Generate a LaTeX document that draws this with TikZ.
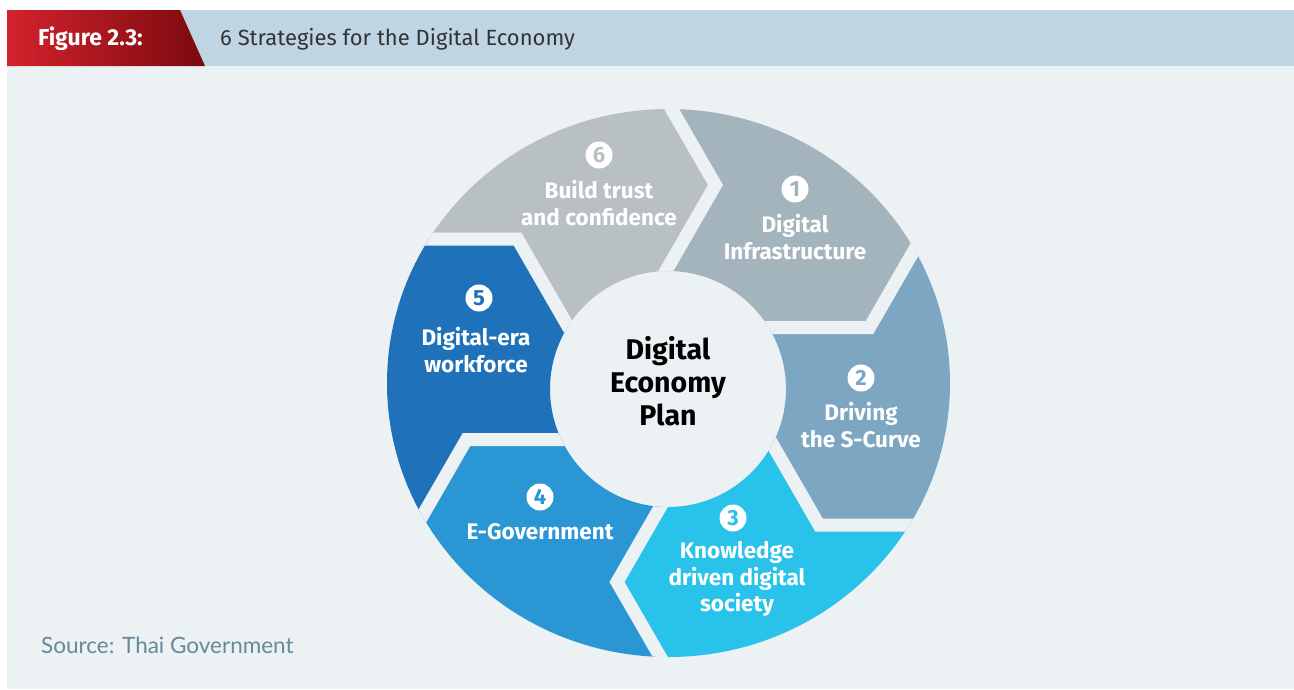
\documentclass[tikz,border=0pt]{standalone}
\usepackage{fontspec}
\setmainfont{Fira Sans}
\newfontfamily\srcfont{Lato}
\usetikzlibrary{calc}
\definecolor{panelbg}{HTML}{ECF1F4}
\definecolor{headbg}{HTML}{BFD5E3}
\definecolor{redL}{HTML}{D4222D}
\definecolor{redR}{HTML}{7A0A0E}
\definecolor{segA}{HTML}{A3B4BD}
\definecolor{segB}{HTML}{7DA6C3}
\definecolor{segC}{HTML}{28C2EA}
\definecolor{segD}{HTML}{2B96D4}
\definecolor{segE}{HTML}{1F71B9}
\definecolor{segF}{HTML}{B9C0C3}
\definecolor{titlegray}{HTML}{333333}
\definecolor{srcgray}{HTML}{67899A}
\tikzset{
  gapline/.style={draw=panelbg, line width=13pt, line join=miter},
  lbl/.style={text=white, font=\bfseries\fontsize{22.5}{26.5}\selectfont, align=center, inner sep=0pt},
  numc/.style={circle, fill=white, minimum size=27pt, inner sep=0pt, font=\bfseries\fontsize{22}{22}\selectfont},
  ctrtext/.style={text=black, font=\bfseries\fontsize{28.5}{33}\selectfont, align=center, inner sep=0pt}
}
\begin{document}
\begin{tikzpicture}[x=1pt,y=-1pt]
\useasboundingbox (0,0) rectangle (1294,689);
\fill[white] (0,0) rectangle (1294,689);
\fill[panelbg] (7,66) rectangle (1294,689);
\fill[headbg] (7,10) rectangle (1294,66);
\shade[left color=redL,right color=redR] (7,10) -- (180,10) -- (205,66) -- (7,66) -- cycle;
\node[anchor=west, inner sep=0pt, text=white, font=\bfseries\fontsize{23}{23}\selectfont] (fig) at (38,39) {Figure 2.3:};
\node[anchor=west, inner sep=0pt, text=titlegray, font=\fontsize{22}{22}\selectfont] (ttl) at (220,39) {6 Strategies for the Digital Economy};
\node[anchor=west, inner sep=0pt, text=srcgray, font=\srcfont\fontsize{22.5}{22.5}\selectfont] (src) at (41,645) {Source: Thai Government};

% ring geometry
\coordinate (O) at (668.5,383);
\coordinate (H) at (668,389);
\coordinate (D1) at (715.5,185);
\coordinate (D2) at (869.5,327.5);
\coordinate (D3) at (819,525);
\coordinate (D4) at (617,582);
\coordinate (D5) at (466.5,439.5);
\coordinate (D6) at (517.5,239);

\begin{scope}[even odd rule]
\clip (O) ellipse [x radius=281.5pt, y radius=274pt] (H) circle [radius=118pt];
\fill[segA] (O) -- ($(D1)+(120:140)$) -- (D1) -- ($(D1)+(240:140)$) -- ($(O)+(-46:450)$) -- ($(D2)+(300:140)$) -- (D2) -- ($(D2)+(180:140)$) -- cycle;
\fill[segB] (O) -- ($(D2)+(180:140)$) -- (D2) -- ($(D2)+(300:140)$) -- ($(O)+(14:450)$) -- ($(D3)+(360:140)$) -- (D3) -- ($(D3)+(240:140)$) -- cycle;
\fill[segC] (O) -- ($(D3)+(240:140)$) -- (D3) -- ($(D3)+(360:140)$) -- ($(O)+(74:450)$) -- ($(D4)+(60:140)$) -- (D4) -- ($(D4)+(300:140)$) -- cycle;
\fill[segD] (O) -- ($(D4)+(300:140)$) -- (D4) -- ($(D4)+(60:140)$) -- ($(O)+(134:450)$) -- ($(D5)+(120:140)$) -- (D5) -- ($(D5)+(0:140)$) -- cycle;
\fill[segE] (O) -- ($(D5)+(0:140)$) -- (D5) -- ($(D5)+(120:140)$) -- ($(O)+(194:450)$) -- ($(D6)+(180:140)$) -- (D6) -- ($(D6)+(60:140)$) -- cycle;
\fill[segF] (O) -- ($(D6)+(60:140)$) -- (D6) -- ($(D6)+(180:140)$) -- ($(O)+(254:450)$) -- ($(D1)+(240:140)$) -- (D1) -- ($(D1)+(120:140)$) -- cycle;
\draw[gapline] ($(D1)+(120:140)$) -- (D1) -- ($(D1)+(240:140)$);
\draw[gapline] ($(D2)+(180:140)$) -- (D2) -- ($(D2)+(300:140)$);
\draw[gapline] ($(D3)+(240:140)$) -- (D3) -- ($(D3)+(360:140)$);
\draw[gapline] ($(D4)+(300:140)$) -- (D4) -- ($(D4)+(60:140)$);
\draw[gapline] ($(D5)+(0:140)$) -- (D5) -- ($(D5)+(120:140)$);
\draw[gapline] ($(D6)+(60:140)$) -- (D6) -- ($(D6)+(180:140)$);
\end{scope}

% labels
\node[numc, text=segF] (n6) at (599,155) {6};
\node[lbl] (t6) at (599,203) {Build trust\\and confidence};
\node[numc, text=segA] (n1) at (795,189) {1};
\node[lbl] (t1) at (795,237) {Digital\\Infrastructure};
\node[numc, text=segB] (n2) at (861,378) {2};
\node[lbl] (t2) at (861,425) {Driving\\the S-Curve};
\node[numc, text=segC] (n3) at (733,518) {3};
\node[lbl] (t3) at (737,579) {Knowledge\\driven digital\\society};
\node[numc, text=segD] (n4) at (540,497) {4};
\node[lbl] (t4) at (540,532) {E-Government};
\node[numc, text=segE] (n5) at (479,298) {5};
\node[lbl] (t5) at (476,350) {Digital-era\\workforce};
\node[ctrtext] (ctr) at (668,381) {Digital\\Economy\\Plan};
\end{tikzpicture}
\end{document}
